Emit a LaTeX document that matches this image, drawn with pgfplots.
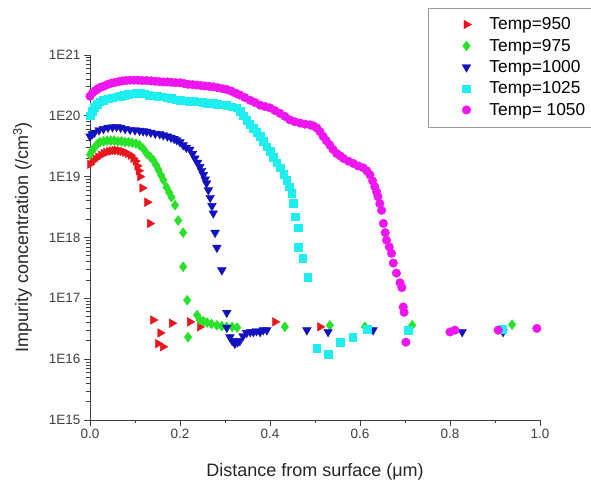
\documentclass[border=0pt]{standalone}
\usepackage{fontspec}
\setmainfont{Liberation Sans}
\usepackage{pgfplots}
\pgfplotsset{compat=1.18}

\definecolor{c950}{RGB}{232,22,28}
\definecolor{c975}{RGB}{40,225,40}
\definecolor{c1000}{RGB}{18,18,190}
\definecolor{c1025}{RGB}{30,238,238}
\definecolor{c1050}{RGB}{238,22,238}

\begin{document}
\begin{tikzpicture}
\begin{axis}[
  name=ax,
  scale only axis,
  width=450bp, height=365bp,
  ymode=log,
  xmin=0, xmax=1,
  ymin=1e15, ymax=1e21,
  clip=false,
  axis x line=bottom, axis y line=left,
  axis line style={-, draw=black!75, line width=0.9pt},
  xtick={0,0.2,0.4,0.6,0.8,1.0},
  xticklabels={0.0,0.2,0.4,0.6,0.8,1.0},
  minor x tick num=1,
  ytick={1e15,1e16,1e17,1e18,1e19,1e20,1e21},
  yticklabels={1E15,1E16,1E17,1E18,1E19,1E20,1E21},
  tick align=outside,
  major tick length=6bp, minor tick length=3.5bp,
  tick style={draw=black!75, line width=0.8pt},
  tick label style={font=\fontsize{13.5bp}{15bp}\selectfont, text=black!75},
  xlabel={Distance from surface (μm)},
  ylabel={Impurity concentration (/cm\textsuperscript{3})},
  every axis x label/.style={at={(axis description cs:0.5,0)}, anchor=north, yshift=-40bp,
    font=\fontsize{18bp}{21bp}\selectfont, text=black!85},
  every axis y label/.style={at={(axis description cs:-0.15,0.5)}, rotate=90, anchor=center,
    font=\fontsize{18bp}{21bp}\selectfont, text=black!85},
  legend style={at={(0.751,1.13)}, anchor=north west, draw=black!40, fill=white,
    font=\fontsize{17.3bp}{20bp}\selectfont, inner xsep=34bp, inner ysep=8bp, row sep=3.8bp,
    /tikz/every odd column/.append style={column sep=16bp}},
  legend cell align=left,
]
\addplot[only marks, color=c950, mark=triangle*, mark size=5bp, mark options={rotate=-90}] coordinates {
(0.000,1.6e19) (0.006,1.8e19) (0.012,1.95e19) (0.018,2.1e19) (0.024,2.25e19) (0.030,2.4e19)
(0.036,2.5e19) (0.042,2.6e19) (0.048,2.65e19) (0.054,2.7e19) (0.060,2.7e19) (0.066,2.65e19)
(0.072,2.6e19) (0.078,2.5e19) (0.084,2.4e19) (0.090,2.25e19) (0.096,2.0e19) (0.101,1.8e19)
(0.105,1.5e19) (0.108,1.25e19) (0.111,1.0e19) (0.116,6.5e18) (0.127,3.8e18) (0.133,1.7e18)
(0.140,4.4e16) (0.151,1.8e16) (0.156,2.7e16) (0.162,1.6e16) (0.182,3.9e16) (0.222,4.1e16)
(0.244,3.4e16) (0.411,4.1e16) (0.511,3.4e16)
};
\addlegendentry{Temp=950}
\addplot[only marks, color=c975, mark=diamond*, mark size=5bp] coordinates {
(0.000,2.3e19) (0.005,2.7e19) (0.010,3.0e19) (0.016,3.4e19) (0.022,3.7e19) (0.030,3.8e19)
(0.038,3.9e19) (0.046,3.9e19) (0.054,3.9e19) (0.062,3.8e19) (0.070,3.8e19) (0.078,3.7e19)
(0.086,3.7e19) (0.094,3.6e19) (0.102,3.5e19) (0.110,3.3e19) (0.118,2.9e19) (0.126,2.4e19)
(0.134,2.1e19) (0.141,1.85e19) (0.147,1.55e19) (0.152,1.3e19) (0.158,1.05e19) (0.163,8.8e18)
(0.170,6.7e18) (0.176,5.5e18) (0.181,4.6e18) (0.189,3.4e18) (0.196,1.9e18) (0.207,1.2e18)
(0.207,3.3e17) (0.216,9.3e16) (0.218,2.3e16) (0.238,5.3e16) (0.244,4.4e16) (0.252,4.2e16)
(0.260,4.0e16) (0.270,3.8e16) (0.282,3.6e16) (0.293,3.5e16) (0.304,3.4e16) (0.316,3.4e16)
(0.327,3.3e16) (0.433,3.4e16) (0.533,3.6e16) (0.611,3.4e16) (0.716,3.6e16) (0.938,3.7e16)
};
\addlegendentry{Temp=975}
\addplot[only marks, color=c1000, mark=triangle*, mark size=5bp, mark options={rotate=180}] coordinates {
(0.000,4.6e19) (0.005,5.0e19) (0.010,5.3e19) (0.020,5.8e19) (0.030,6.1e19) (0.040,6.4e19)
(0.050,6.5e19) (0.059,6.6e19) (0.068,6.4e19) (0.078,6.1e19) (0.089,5.9e19) (0.100,5.8e19)
(0.110,5.7e19) (0.118,5.6e19) (0.126,5.5e19) (0.135,5.3e19) (0.145,5.1e19) (0.155,5.0e19)
(0.163,4.8e19) (0.172,4.6e19) (0.180,4.4e19) (0.187,4.2e19) (0.193,4.0e19) (0.200,3.7e19)
(0.207,3.3e19) (0.214,3.0e19) (0.222,2.8e19) (0.228,2.4e19) (0.233,2.0e19) (0.239,1.7e19)
(0.244,1.45e19) (0.248,1.25e19) (0.252,1.07e19) (0.256,9.0e18) (0.259,7.8e18) (0.263,6.0e18)
(0.267,4.5e18) (0.271,3.3e18) (0.274,2.5e18) (0.278,1.2e18) (0.282,6.8e17) (0.293,2.9e17)
(0.304,5.8e16) (0.304,3.3e16) (0.311,2.3e16) (0.316,2.0e16) (0.322,1.8e16) (0.328,1.9e16)
(0.333,2.0e16) (0.340,2.4e16) (0.348,2.7e16) (0.356,2.8e16) (0.363,2.8e16) (0.370,2.9e16)
(0.378,2.8e16) (0.385,3.0e16) (0.393,3.0e16) (0.482,3.0e16) (0.529,2.8e16) (0.629,3.0e16)
(0.827,2.8e16) (0.918,2.8e16)
};
\addlegendentry{Temp=1000}
\addplot[only marks, color=c1025, mark=square*, mark size=3.8bp] coordinates {
(0.000,1.0e20) (0.005,1.2e20) (0.010,1.4e20) (0.016,1.55e20) (0.022,1.7e20) (0.030,1.8e20)
(0.040,1.9e20) (0.050,2.0e20) (0.060,2.05e20) (0.067,2.1e20) (0.076,2.2e20) (0.085,2.25e20)
(0.094,2.3e20) (0.103,2.35e20) (0.111,2.35e20) (0.120,2.3e20) (0.130,2.2e20) (0.140,2.15e20)
(0.150,2.1e20) (0.160,2.05e20) (0.170,2.0e20) (0.180,1.95e20) (0.190,1.85e20) (0.200,1.8e20)
(0.210,1.78e20) (0.220,1.75e20) (0.230,1.72e20) (0.240,1.7e20) (0.250,1.66e20) (0.260,1.63e20)
(0.274,1.6e20) (0.282,1.57e20) (0.292,1.53e20) (0.304,1.5e20) (0.315,1.42e20) (0.326,1.35e20)
(0.334,1.2e20) (0.341,1.0e20) (0.348,8.5e19) (0.355,7.3e19) (0.363,6.3e19) (0.370,5.4e19)
(0.378,4.6e19) (0.385,3.8e19) (0.393,3.1e19) (0.400,2.6e19) (0.407,2.1e19) (0.415,1.7e19)
(0.422,1.4e19) (0.430,1.1e19) (0.437,8.7e18) (0.443,6.8e18) (0.448,5.3e18) (0.452,3.7e18)
(0.456,2.2e18) (0.462,1.45e18) (0.462,7.0e17) (0.473,4.6e17) (0.484,2.2e17)
(0.504,1.5e16) (0.529,1.2e16) (0.556,1.9e16) (0.584,2.3e16) (0.616,3.1e16) (0.707,3.0e16)
(0.916,3.1e16)
};
\addlegendentry{Temp=1025}
\addplot[only marks, color=c1050, mark=*, mark size=4.3bp] coordinates {
(0.000,2.1e20) (0.006,2.4e20) (0.012,2.6e20) (0.018,2.8e20) (0.024,2.95e20) (0.032,3.1e20)
(0.040,3.3e20) (0.048,3.45e20) (0.056,3.55e20) (0.064,3.65e20) (0.072,3.75e20) (0.080,3.8e20)
(0.089,3.85e20) (0.098,3.85e20) (0.107,3.85e20) (0.116,3.8e20) (0.126,3.8e20) (0.136,3.75e20)
(0.145,3.7e20) (0.154,3.65e20) (0.163,3.6e20) (0.172,3.6e20) (0.181,3.55e20) (0.190,3.5e20)
(0.200,3.5e20) (0.209,3.4e20) (0.218,3.3e20) (0.228,3.25e20) (0.237,3.2e20) (0.246,3.15e20)
(0.255,3.1e20) (0.265,3.05e20) (0.274,3.0e20) (0.284,2.9e20) (0.294,2.8e20) (0.304,2.7e20)
(0.314,2.55e20) (0.324,2.35e20) (0.333,2.2e20) (0.344,2.0e20) (0.356,1.8e20) (0.367,1.65e20)
(0.378,1.5e20) (0.389,1.42e20) (0.400,1.35e20) (0.411,1.22e20) (0.422,1.1e20) (0.433,9.8e19)
(0.444,8.6e19) (0.455,8.0e19) (0.467,7.6e19) (0.478,7.3e19) (0.489,7.1e19) (0.497,6.8e19)
(0.504,6.3e19) (0.511,5.5e19) (0.518,4.6e19) (0.525,3.9e19) (0.533,3.3e19) (0.540,2.8e19)
(0.548,2.4e19) (0.556,2.2e19) (0.563,2.0e19) (0.574,1.8e19) (0.585,1.65e19) (0.596,1.5e19)
(0.607,1.4e19) (0.615,1.25e19) (0.622,1.07e19) (0.628,8.5e18) (0.633,6.8e18) (0.637,5.6e18)
(0.640,4.7e18) (0.644,3.6e18) (0.648,2.8e18) (0.652,1.7e18) (0.656,1.2e18) (0.659,9.0e17)
(0.665,7.0e17) (0.670,5.5e17) (0.674,3.8e17) (0.681,2.6e17) (0.689,1.8e17) (0.693,1.5e17)
(0.696,7.2e16) (0.698,5.9e16) (0.702,1.9e16) (0.800,2.8e16) (0.811,3.0e16) (0.907,3.0e16)
(0.993,3.2e16)
};
\addlegendentry{Temp= 1050}
\end{axis}
\pgfresetboundingbox
\path[use as bounding box] ([shift={(-90bp,-64bp)}]ax.south west) rectangle ([shift={(51bp,55bp)}]ax.north east);
\end{tikzpicture}
\end{document}
